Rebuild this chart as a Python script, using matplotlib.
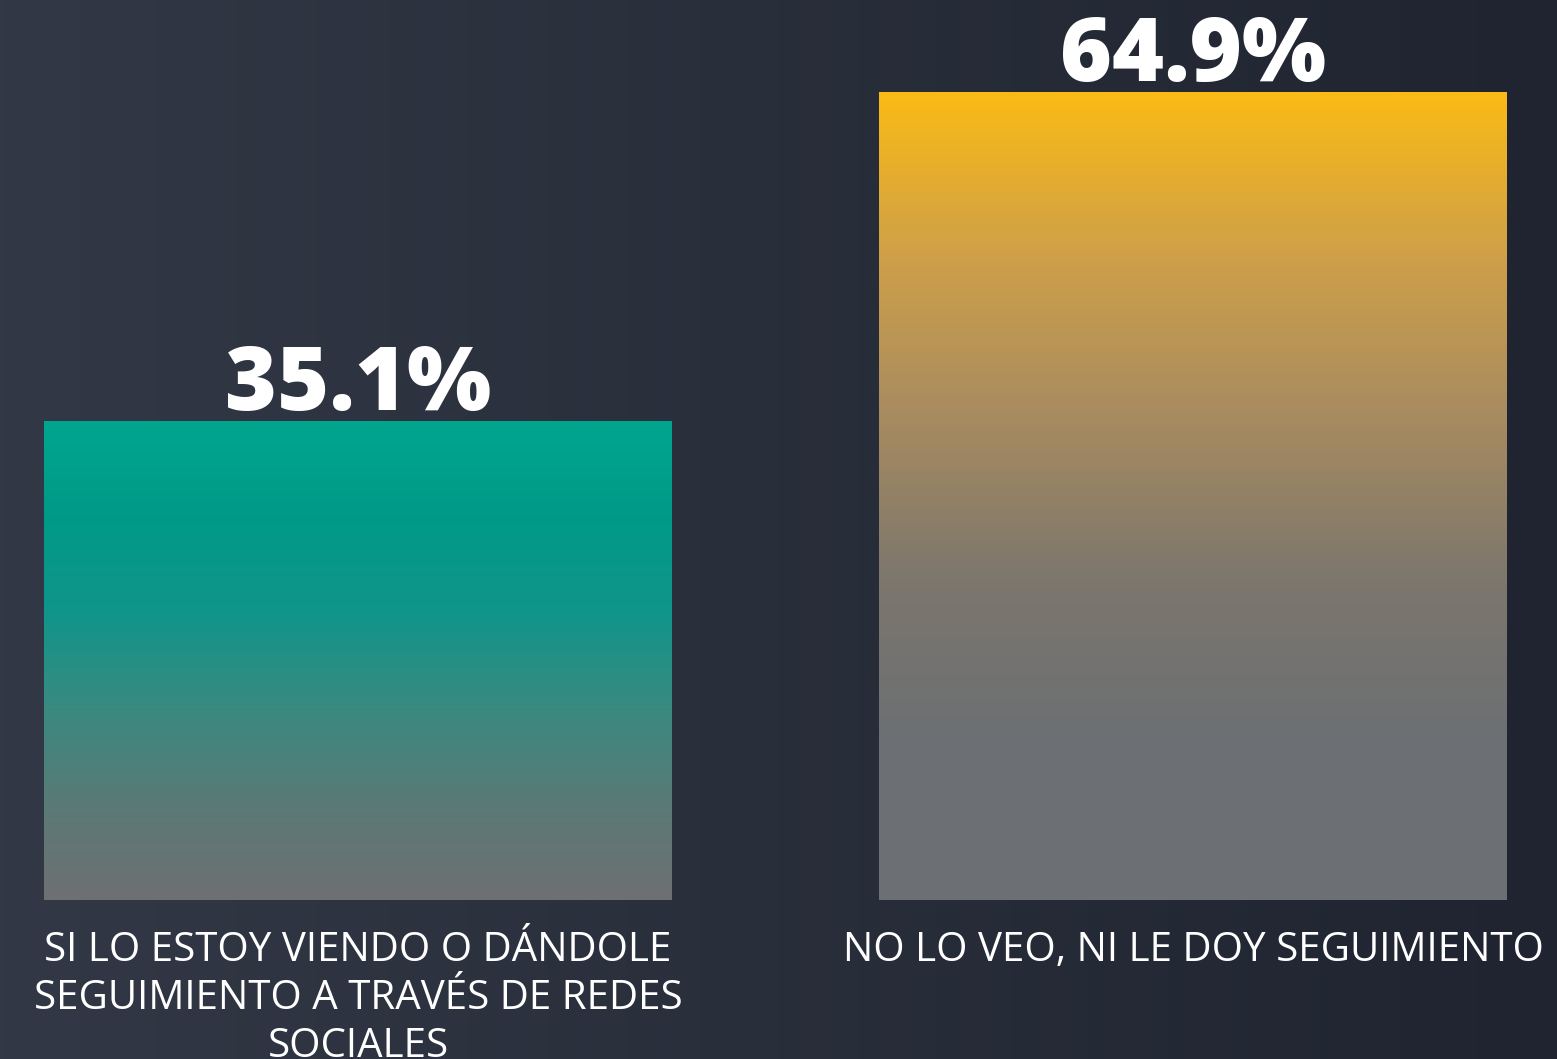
import numpy as np
import matplotlib.pyplot as plt
from matplotlib.colors import LinearSegmentedColormap

categories = ["SI LO ESTOY VIENDO O DÁNDOLE\nSEGUIMIENTO A TRAVÉS DE REDES\nSOCIALES",
              "NO LO VEO, NI LE DOY SEGUIMIENTO"]
values = [35.1, 64.9]
value_labels = ["35.1%", "64.9%"]

# gradient stops (bottom -> top) for each bar
teal_stops = ["#6e7072", "#5a7a76", "#3a8a80", "#10958a", "#009a87", "#00a68f"]
gold_stops = ["#6c6f73", "#6c6f73", "#7d776d", "#a88b60", "#cfa048", "#fbbb15"]

plt.rcParams['font.family'] = ['Open Sans', 'DejaVu Sans']

def main():
    fig = plt.figure(figsize=(15.57, 10.59), dpi=100)

    # background horizontal gradient
    bg = fig.add_axes([0, 0, 1, 1])
    bg_cmap = LinearSegmentedColormap.from_list("bg", ["#323845", "#1f2430"])
    bg.imshow(np.linspace(0, 1, 256).reshape(1, -1), cmap=bg_cmap, aspect='auto',
              extent=[0, 1, 0, 1])
    bg.set_axis_off()

    ax = fig.add_axes([0, 0, 1, 1])
    ax.set_facecolor('none')
    base = -8.29
    x = np.arange(len(values))
    width = 0.752
    bars = ax.bar(x, np.array(values) - base, bottom=base, width=width,
                  color='none', edgecolor='none')

    for bar, stops in zip(bars, [teal_stops, gold_stops]):
        cmap = LinearSegmentedColormap.from_list("g", stops)
        bx, by = bar.get_x(), bar.get_y()
        bw, bh = bar.get_width(), bar.get_height()
        im = ax.imshow(np.linspace(0, 1, 256).reshape(-1, 1), cmap=cmap, aspect='auto',
                       origin='lower', extent=[bx, bx + bw, by, by + bh], zorder=2)
        im.set_clip_path(bar)

    for i, v in enumerate(values):
        ax.annotate(value_labels[i], (x[i], v), xytext=(0, 8), textcoords='offset points',
                    ha='center', va='baseline', fontsize=64, fontweight='heavy', color='white')
        ax.annotate(categories[i], (x[i], base), xytext=(0, -22), textcoords='offset points',
                    ha='center', va='top', fontsize=29, color='white', linespacing=1.25)

    ax.set_xlim(-0.4287, 1.436)
    ax.set_ylim(-22.69, 73.23)
    ax.set_axis_off()

    fig.savefig("out.png", dpi=100)


if __name__ == "__main__":
    main()
